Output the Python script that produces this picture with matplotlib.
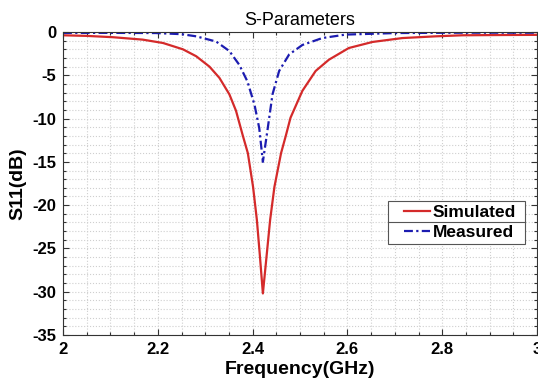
import matplotlib
matplotlib.use("Agg")
import matplotlib.pyplot as plt
from matplotlib.ticker import MultipleLocator, FuncFormatter
from matplotlib.lines import Line2D
from matplotlib.patches import Rectangle

plt.rcParams['font.family'] = ['Liberation Sans', 'DejaVu Sans']
plt.rcParams['axes.unicode_minus'] = False

# values
freq_sim = [2.000, 2.050, 2.105, 2.168, 2.211, 2.253, 2.281, 2.309, 2.330,
            2.351, 2.365, 2.379, 2.390, 2.401, 2.409, 2.415, 2.4217, 2.430,
            2.437, 2.446, 2.460, 2.470, 2.480, 2.505, 2.533, 2.561, 2.603,
            2.653, 2.716, 2.786, 2.842, 2.920, 3.000]
s11_sim = [-0.38, -0.45, -0.6, -0.88, -1.27, -2.0, -2.8, -4.0, -5.3,
           -7.2, -9.1, -11.9, -14.0, -17.9, -21.7, -25.6, -30.2, -25.6,
           -21.7, -17.9, -14.0, -12.0, -9.9, -6.8, -4.5, -3.2, -1.85,
           -1.15, -0.7, -0.5, -0.38, -0.35, -0.33]

freq_meas = [2.000, 2.100, 2.196, 2.250, 2.281, 2.323, 2.351, 2.372, 2.389,
             2.404, 2.414, 2.4217, 2.432, 2.442, 2.456, 2.477, 2.505, 2.547,
             2.596, 2.702, 2.842, 3.000]
s11_meas = [-0.1, -0.1, -0.12, -0.25, -0.5, -1.1, -2.2, -3.8, -5.7,
            -8.4, -11.1, -15.0, -11.1, -7.2, -4.5, -2.6, -1.5, -0.7,
            -0.3, -0.12, -0.08, -0.08]

fig = plt.figure(figsize=(5.38, 3.91), dpi=100)
ax = fig.add_axes([63 / 538, 1 - 335 / 391, 474 / 538, 303 / 391])

ax.plot(freq_sim, s11_sim, color='#d42a2a', lw=1.6, label='Simulated')
ax.plot(freq_meas, s11_meas, color='#1c1cb0', lw=1.6, ls=(0, (4, 1.5, 1, 1.5)),
        label='Measured')

ax.set_xlim(2, 3)
ax.set_ylim(-35, 0)
ax.xaxis.set_major_locator(MultipleLocator(0.2))
ax.xaxis.set_minor_locator(MultipleLocator(0.05))
ax.yaxis.set_major_locator(MultipleLocator(5))
ax.yaxis.set_minor_locator(MultipleLocator(1))
ax.xaxis.set_major_formatter(FuncFormatter(lambda v, p: f"{v:g}"))

ax.grid(True, which='both', ls=':', color='#cfcfcf', lw=0.8)
ax.tick_params(which='both', direction='in', top=True, right=True,
               labelsize=12, width=0.8, color='#333333', pad=5)
ax.tick_params(which='major', length=4)
ax.tick_params(which='minor', length=2)
for lab in ax.get_xticklabels() + ax.get_yticklabels():
    lab.set_fontweight('bold')
for sp in ax.spines.values():
    sp.set_color('#333333')
    sp.set_linewidth(0.8)

ax.set_title('S-Parameters', fontsize=13, pad=5)
ax.set_xlabel('Frequency(GHz)', fontsize=14, fontweight='bold', labelpad=3)
ax.set_ylabel('S11(dB)', fontsize=14, fontweight='bold', labelpad=4)

# legend without its own frame; box and separator drawn by hand like the original
leg = ax.legend(loc='upper left', bbox_to_anchor=(0.712, 0.442), frameon=False,
                handlelength=1.5, handletextpad=0.15, borderpad=0.2,
                labelspacing=0.3, borderaxespad=0,
                prop={'weight': 'bold', 'size': 12.5})

fig.canvas.draw()
bb = leg.get_window_extent()
inv = ax.transAxes.inverted()
(x0, y0) = inv.transform((bb.x0 - 12, bb.y0))
(x1, y1) = inv.transform((bb.x1 + 6, bb.y1))
ax.add_patch(Rectangle((x0, y0), x1 - x0, y1 - y0, transform=ax.transAxes,
                       facecolor='white', edgecolor='#555555', lw=0.8, zorder=4.9))
leg.set_zorder(5)
ymid = (y0 + y1) / 2
ax.add_line(Line2D([x0, x1], [ymid, ymid], transform=ax.transAxes,
                   color='#555555', lw=0.8, zorder=10))

fig.savefig('out.png', dpi=100)
